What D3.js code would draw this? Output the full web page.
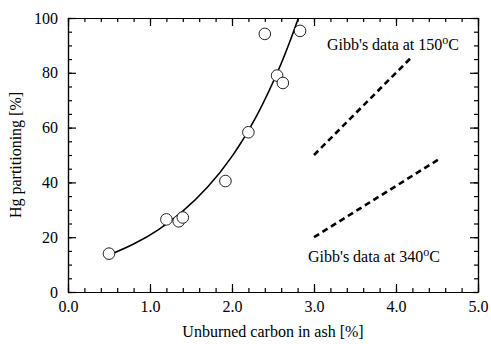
<!DOCTYPE html>
<html>
<head>
<meta charset="utf-8">
<script src="https://d3js.org/d3.v7.min.js"></script>
<style>
body { margin:0; background:#fff; }
svg text { font-family: "Liberation Serif", "Times New Roman", serif; font-size:16px; fill:#000; }
.axis path, .axis line { stroke:#000; stroke-width:1.2px; }
</style>
</head>
<body>
<script>
// measured points
var carbon = [0.5, 1.2, 1.35, 1.4, 1.92, 2.2, 2.4, 2.55, 2.62, 2.83];
var hg     = [14, 26.5, 25.8, 27.2, 40.5, 58.3, 94.2, 79, 76.3, 95.3];

// fitted curve
var fitX = [0.5, 0.8, 1.1, 1.4, 1.7, 2.0, 2.3, 2.6, 2.81];
var fitY = [13.5, 17.5, 22.7, 29.5, 38.2, 49.5, 64.3, 83.4, 100];

// Gibb's dashed lines
var gibb150X = [3.0, 4.2], gibb150Y = [50, 86];
var gibb340X = [3.0, 4.52], gibb340Y = [20, 48.4];

var xTicks = [0, 1, 2, 3, 4, 5];
var yTicks = [0, 20, 40, 60, 80, 100];

var width = 491, height = 344;
var margin = {top:18, right:13, bottom:52, left:68};
var serif = "Liberation Serif, Times New Roman, serif";

var svg = d3.select("body").append("svg")
    .attr("width", width)
    .attr("height", height)
    .attr("font-family", serif);

var x = d3.scaleLinear().domain([0, 5]).range([margin.left, width - margin.right]);
var y = d3.scaleLinear().domain([0, 100]).range([height - margin.bottom, margin.top]);

var minorX = d3.range(0, 5.001, 0.2);
var minorY = d3.range(0, 100.001, 5);

function drawAxis(axis, tr) {
    svg.append("g").attr("class", "axis").attr("transform", tr).call(axis)
        .attr("font-family", serif).attr("font-size", 16);
}

// minor ticks on all four sides
drawAxis(d3.axisBottom(x).tickValues(minorX).tickSize(-4).tickSizeOuter(0).tickFormat(""), "translate(0," + y(0) + ")");
drawAxis(d3.axisTop(x).tickValues(minorX).tickSize(-4).tickSizeOuter(0).tickFormat(""), "translate(0," + y(100) + ")");
drawAxis(d3.axisLeft(y).tickValues(minorY).tickSize(-4).tickSizeOuter(0).tickFormat(""), "translate(" + x(0) + ",0)");
drawAxis(d3.axisRight(y).tickValues(minorY).tickSize(-4).tickSizeOuter(0).tickFormat(""), "translate(" + x(5) + ",0)");

// major ticks
drawAxis(d3.axisBottom(x).tickValues(xTicks).tickSize(-8).tickSizeOuter(0).tickPadding(9).tickFormat(d3.format(".1f")), "translate(0," + y(0) + ")");
drawAxis(d3.axisTop(x).tickValues(xTicks).tickSize(-8).tickSizeOuter(0).tickFormat(""), "translate(0," + y(100) + ")");
drawAxis(d3.axisLeft(y).tickValues(yTicks).tickSize(-8).tickSizeOuter(0).tickPadding(10), "translate(" + x(0) + ",0)");
drawAxis(d3.axisRight(y).tickValues(yTicks).tickSize(-8).tickSizeOuter(0).tickFormat(""), "translate(" + x(5) + ",0)");

// fit curve
var fit = fitX.map(function(d, i) { return [d, fitY[i]]; });
svg.append("path")
    .datum(fit)
    .attr("fill", "none")
    .attr("stroke", "#000")
    .attr("stroke-width", 1.6)
    .attr("d", d3.line().x(function(d) { return x(d[0]); }).y(function(d) { return y(d[1]); }).curve(d3.curveCatmullRom));

// dashed Gibb lines
[[gibb150X, gibb150Y], [gibb340X, gibb340Y]].forEach(function(g) {
    svg.append("line")
        .attr("x1", x(g[0][0])).attr("y1", y(g[1][0]))
        .attr("x2", x(g[0][1])).attr("y2", y(g[1][1]))
        .attr("stroke", "#000")
        .attr("stroke-width", 2.6)
        .attr("stroke-dasharray", "6,4");
});

// data points
svg.selectAll("circle.pt")
    .data(carbon)
    .enter()
    .append("circle")
    .attr("class", "pt")
    .attr("cx", function(d) { return x(d); })
    .attr("cy", function(d, i) { return y(hg[i]); })
    .attr("r", 5.8)
    .attr("fill", "#fff")
    .attr("stroke", "#222")
    .attr("stroke-width", 1);

// labels
function gibbLabel(px, py, temp) {
    var t = svg.append("text").attr("x", px).attr("y", py);
    t.append("tspan").text("Gibb's data at " + temp);
    t.append("tspan").attr("dy", -6).style("font-size", "12px").text("o");
    t.append("tspan").attr("dy", 6).text("C");
}
gibbLabel(327, 50, "150");
gibbLabel(308, 262, "340");

svg.append("text")
    .attr("x", (x(0) + x(5)) / 2)
    .attr("y", 337)
    .attr("text-anchor", "middle")
    .text("Unburned carbon in ash [%]");

svg.append("text")
    .attr("transform", "translate(21," + ((y(0) + y(100)) / 2) + ") rotate(-90)")
    .attr("text-anchor", "middle")
    .text("Hg partitioning [%]");
</script>
</body>
</html>
